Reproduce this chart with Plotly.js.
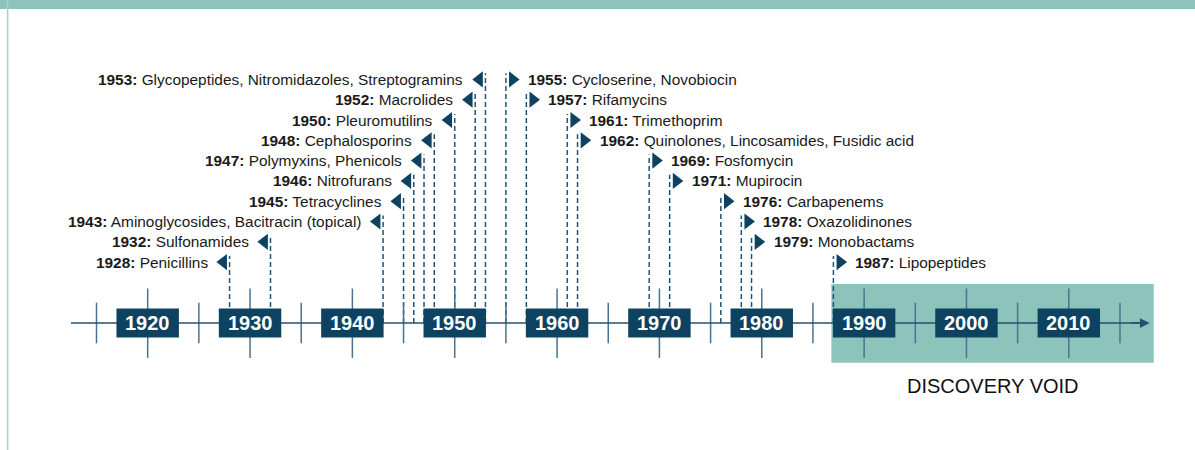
<!DOCTYPE html>
<html>
<head>
<meta charset="utf-8">
<script src="https://cdn.plot.ly/plotly-3.0.1.min.js"></script>
<style>
  html, body { margin: 0; padding: 0; background: #fff; }
  #chart { width: 1195px; height: 450px; }
</style>
</head>
<body>
<div id="chart"></div>
<script>
// discovery years of antibiotic classes
const years = [1928, 1932, 1943, 1945, 1946, 1947, 1948, 1950, 1952, 1953,
               1955, 1957, 1961, 1962, 1969, 1971, 1976, 1978, 1979, 1987];
const classes = ['Penicillins', 'Sulfonamides', 'Aminoglycosides, Bacitracin (topical)',
  'Tetracyclines', 'Nitrofurans', 'Polymyxins, Phenicols', 'Cephalosporins',
  'Pleuromutilins', 'Macrolides', 'Glycopeptides, Nitromidazoles, Streptogramins',
  'Cycloserine, Novobiocin', 'Rifamycins', 'Trimethoprim',
  'Quinolones, Lincosamides, Fusidic acid', 'Fosfomycin', 'Mupirocin',
  'Carbapenems', 'Oxazolidinones', 'Monobactams', 'Lipopeptides'];
// row of each label above the axis (1 = lowest)
const levels = [1, 2, 3, 4, 5, 6, 7, 8, 9, 10,
                10, 9, 8, 7, 6, 5, 4, 3, 2, 1];
// label side: labels of early years sit left of their line
const sides = ['left', 'left', 'left', 'left', 'left', 'left', 'left', 'left', 'left', 'left',
               'right', 'right', 'right', 'right', 'right', 'right', 'right', 'right', 'right', 'right'];

const decades = [1920, 1930, 1940, 1950, 1960, 1970, 1980, 1990, 2000, 2010];
const halfTicks = [1915, 1925, 1935, 1945, 1955, 1965, 1975, 1985, 1995, 2005, 2015];
const voidSpan = [1986.8, 2018.3];
const voidLabel = 'DISCOVERY VOID';
const axisSpan = [1912.5, 2017.9];

const DARK = '#0e4261';
const TEAL = '#8cc4bb';
const TICK = '#4a7290';
const ROW0 = 2; // label row offset above axis
const FONT = 'Liberation Sans, Arial, sans-serif';

const shapes = [];
const annotations = [];

// frame: teal top bar and thin left border
shapes.push({ type: 'rect', xref: 'paper', yref: 'paper', x0: 0, x1: 1, y0: 1 - 9 / 450, y1: 1,
  fillcolor: TEAL, line: { width: 0 }, layer: 'below' });
shapes.push({ type: 'line', xref: 'paper', yref: 'paper', x0: 0.0064, x1: 0.0064, y0: 0, y1: 1,
  line: { color: '#a9d0ca', width: 1.5 }, layer: 'below' });

// discovery void block
shapes.push({ type: 'rect', x0: voidSpan[0], x1: voidSpan[1], y0: -1.96, y1: 1.92,
  fillcolor: TEAL, line: { width: 0 }, layer: 'below' });

// dashed drop lines
years.forEach((yr, i) => {
  shapes.push({ type: 'line', x0: yr, x1: yr, y0: 0, y1: levels[i] + ROW0 + 0.3,
    line: { color: '#1f5474', width: 1.5, dash: '5px,3px' } });
});

// half-decade ticks
halfTicks.forEach(yr => {
  shapes.push({ type: 'line', x0: yr, x1: yr, y0: -1, y1: 1, line: { color: TICK, width: 1.5 } });
});
// decade ticks
decades.forEach(yr => {
  shapes.push({ type: 'line', x0: yr, x1: yr, y0: -1.72, y1: 1.7, line: { color: TICK, width: 1.5 } });
});

// axis line
shapes.push({ type: 'line', x0: axisSpan[0], x1: axisSpan[1] - 0.3, y0: 0, y1: 0,
  line: { color: '#24506f', width: 1.5 } });

// decade boxes
decades.forEach(yr => {
  shapes.push({ type: 'rect', x0: yr - 3.05, x1: yr + 3.05, y0: -0.71, y1: 0.71,
    fillcolor: DARK, line: { width: 0 } });
  annotations.push({ x: yr, y: 0, text: '<b>' + yr + '</b>', showarrow: false,
    font: { family: FONT, size: 20, color: '#ffffff' } });
});

// arrow head at the end of the axis
annotations.push({ x: axisSpan[1], y: 0, ax: axisSpan[1] - 2, ay: 0, axref: 'x', ayref: 'y',
  showarrow: true, arrowhead: 2, arrowsize: 1.3, arrowwidth: 1.5, arrowcolor: '#24506f', text: '' });

// event labels
years.forEach((yr, i) => {
  const left = sides[i] === 'left';
  annotations.push({ x: yr, y: levels[i] + ROW0, text: '<b>' + yr + ':</b> ' + classes[i],
    showarrow: false, xanchor: left ? 'right' : 'left', xshift: left ? -20 : 20,
    font: { family: FONT, size: 15.4, color: '#1a1a1a' } });
});

annotations.push({ x: (voidSpan[0] + voidSpan[1]) / 2, y: -3.1, text: voidLabel, showarrow: false,
  font: { family: FONT, size: 20, color: '#111111' } });

// triangle markers beside each drop line
const triLeft = { x: [], y: [] };
const triRight = { x: [], y: [] };
years.forEach((yr, i) => {
  if (sides[i] === 'left') { triLeft.x.push(yr - 0.6); triLeft.y.push(levels[i] + ROW0); }
  else { triRight.x.push(yr + 0.65); triRight.y.push(levels[i] + ROW0); }
});

const traces = [
  { x: triLeft.x, y: triLeft.y, mode: 'markers', type: 'scatter', hoverinfo: 'skip',
    marker: { symbol: 'triangle-left', size: 14, color: DARK } },
  { x: triRight.x, y: triRight.y, mode: 'markers', type: 'scatter', hoverinfo: 'skip',
    marker: { symbol: 'triangle-right', size: 14, color: DARK } }
];

const layout = {
  width: 1195,
  height: 450,
  margin: { l: 0, r: 0, t: 0, b: 0 },
  paper_bgcolor: '#ffffff',
  plot_bgcolor: '#ffffff',
  showlegend: false,
  xaxis: { range: [1905.57, 2022.33], visible: false, fixedrange: true },
  yaxis: { range: [-6.256, 15.911], visible: false, fixedrange: true },
  shapes: shapes,
  annotations: annotations
};

Plotly.newPlot('chart', traces, layout, { displayModeBar: false, staticPlot: true });
</script>
</body>
</html>
